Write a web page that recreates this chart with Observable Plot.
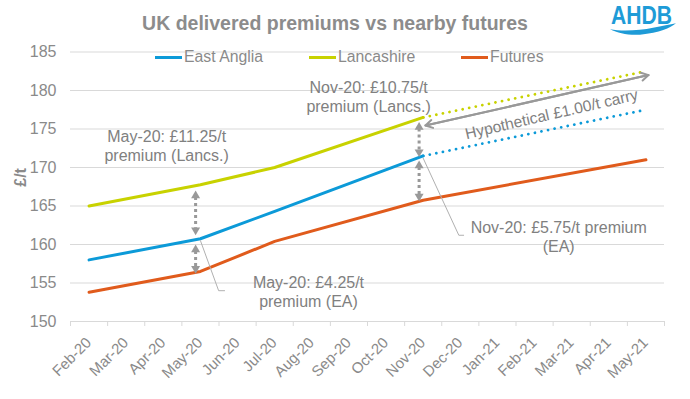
<!DOCTYPE html>
<html>
<head>
<meta charset="utf-8">
<script src="https://cdn.jsdelivr.net/npm/d3@7"></script>
<script src="https://cdn.jsdelivr.net/npm/@observablehq/plot@0.6"></script>
<style>
  html, body { margin: 0; padding: 0; background: #fff; }
  #wrap { position: relative; width: 690px; height: 399px; font-family: "Liberation Sans", Arial, sans-serif; color: #8a8a8a; overflow: hidden; }
  #chart { position: absolute; left: 0; top: 0; }
  #title { position: absolute; left: 0; width: 670px; top: 12px; text-align: center; font-size: 19.5px; font-weight: bold; line-height: 22px; color: #8c8c8c; }
  .leg { position: absolute; top: 48px; display: flex; align-items: center; font-size: 15.8px; line-height: 18px; color: #8a8a8a; }
  .leg .sw { width: 27px; height: 3px; margin-right: 2px; }
  #logo { position: absolute; left: 604px; top: 0px; }
</style>
</head>
<body>
<div id="wrap">
  <div id="chart"></div>
  <div id="title">UK delivered premiums vs nearby futures</div>
  <div class="leg" style="left:155px"><span class="sw" style="background:#0c9ad8"></span>East Anglia</div>
  <div class="leg" style="left:309px"><span class="sw" style="background:#c8d200"></span>Lancashire</div>
  <div class="leg" style="left:461px"><span class="sw" style="background:#e05b1c"></span>Futures</div>
  <svg id="logo" width="86" height="40" viewBox="604 0 86 40">
    <text x="611" y="24" font-family="Liberation Sans, Arial, sans-serif" font-size="25" font-weight="bold" fill="#1e9bd7" textLength="61" lengthAdjust="spacingAndGlyphs">AHDB</text>
    <path d="M610,29.3 C622,31.5 640,30.5 653,27.7 C662,26 670,24.5 676,23.3 C670,28 660,33 640,34.7 C628,35.5 618,33 610,29.3 Z" fill="#1e9bd7"/>
  </svg>
</div>
<script>
// ---- data ----
const months = ["Feb-20","Mar-20","Apr-20","May-20","Jun-20","Jul-20","Aug-20","Sep-20","Oct-20","Nov-20","Dec-20","Jan-21","Feb-21","Mar-21","Apr-21","May-21"];
const yTicks = [150, 155, 160, 165, 170, 175, 180, 185];

const eastAngliaMonths = ["Feb-20","May-20","Jul-20","Nov-20"];
const eastAngliaValues = [158, 160.75, 164.3, 171.5];
const lancashireMonths = ["Feb-20","May-20","Jul-20","Nov-20"];
const lancashireValues = [165, 167.75, 170, 176.5];
const futuresMonths = ["Feb-20","May-20","Jul-20","Nov-20","May-21"];
const futuresValues = [153.8, 156.5, 160.4, 165.75, 171];

const carryMonths = ["Nov-20","May-21"];
const eastAngliaCarry = [171.5, 177.5];
const lancashireCarry = [176.5, 182.5];

const colors = { ea: "#0c9ad8", lancs: "#c8d200", fut: "#e05b1c" };

// ---- annotations (data space: x = month index) ----
const premiumArrows = [
  {x: 2.87, top: 167.0, bottom: 161.2},
  {x: 2.87, top: 160.0, bottom: 156.2},
  {x: 8.89, top: 175.9, bottom: 171.35},
  {x: 8.89, top: 170.9, bottom: 165.6}
];
const carryArrow = {x1: 9.06, y1: 175.45, x2: 15.07, y2: 182.0};
const labels = [
  {x: 2.09, y: 172.9, text: "May-20: £11.25/t\npremium (Lancs.)"},
  {x: 7.53, y: 179.2, text: "Nov-20: £10.75/t\npremium (Lancs.)"},
  {x: 5.91, y: 153.9, text: "May-20: £4.25/t\npremium (EA)"},
  {x: 12.65, y: 161.0, text: "Nov-20: £5.75/t premium\n(EA)"}
];
const carryLabel = [{x: 12.46, y: 176.9, text: "Hypothetical £1.00/t carry"}];
const leaderMay = [{x: 3.0, y: 160.5}, {x: 3.49, y: 154.0}, {x: 3.65, y: 154.0}];
const leaderNov = [{x: 9.0, y: 171.2}, {x: 9.96, y: 161.2}, {x: 10.09, y: 161.2}];

const idx = m => months.indexOf(m);
const series = (ms, vs) => ms.map((m, i) => ({x: idx(m), y: vs[i]}));

const upTip = { draw(ctx, size) { const r = Math.sqrt(size / Math.PI); ctx.moveTo(0, 0); ctx.lineTo(r, 1.7 * r); ctx.lineTo(-r, 1.7 * r); ctx.closePath(); } };
const downTip = { draw(ctx, size) { const r = Math.sqrt(size / Math.PI); ctx.moveTo(0, 0); ctx.lineTo(r, -1.7 * r); ctx.lineTo(-r, -1.7 * r); ctx.closePath(); } };

const gray = "#999999";
const textGray = "#808080";

const chart = Plot.plot({
  width: 690,
  height: 399,
  marginLeft: 70,
  marginRight: 26,
  marginTop: 51.5,
  marginBottom: 78,
  x: {type: "linear", domain: [-0.5, 15.5], axis: null},
  y: {domain: [150, 185], ticks: yTicks, tickSize: 0, tickPadding: 14, label: null, tickFormat: d => String(d)},
  style: {fontFamily: "Liberation Sans, Arial, sans-serif", fontSize: "16px", color: "#8a8a8a", background: "transparent", overflow: "visible"},
  marks: [
    Plot.ruleY(yTicks, {stroke: "#d9d9d9", strokeWidth: 1}),
    Plot.ruleX(d3.range(-0.5, 16, 1), {y1: 150, y2: 149.35, stroke: "#d9d9d9"}),
    Plot.text(months, {x: (d, i) => i, text: d => d, frameAnchor: "bottom", dy: 22, dx: 3, rotate: -45, textAnchor: "end", fontSize: 15, fill: "#8a8a8a"}),
    Plot.text(["£/t"], {text: d => d, frameAnchor: "left", dx: -50, rotate: -90, fontWeight: "bold", fontSize: 16, fill: "#8a8a8a"}),
    Plot.line(series(futuresMonths, futuresValues), {x: "x", y: "y", stroke: colors.fut, strokeWidth: 3}),
    Plot.line(series(eastAngliaMonths, eastAngliaValues), {x: "x", y: "y", stroke: colors.ea, strokeWidth: 3}),
    Plot.line(series(lancashireMonths, lancashireValues), {x: "x", y: "y", stroke: colors.lancs, strokeWidth: 3}),
    Plot.line(series(carryMonths, eastAngliaCarry), {x: "x", y: "y", stroke: colors.ea, strokeWidth: 2.8, strokeDasharray: "0.01,6.7", strokeLinecap: "round"}),
    Plot.line(series(carryMonths, lancashireCarry), {x: "x", y: "y", stroke: colors.lancs, strokeWidth: 2.8, strokeDasharray: "0.01,6.7", strokeLinecap: "round"}),
    Plot.line(leaderMay, {x: "x", y: "y", stroke: "#b0b0b0", strokeWidth: 1}),
    Plot.line(leaderNov, {x: "x", y: "y", stroke: "#b0b0b0", strokeWidth: 1}),
    Plot.ruleX(premiumArrows, {x: "x", y1: "top", y2: "bottom", insetTop: 7, insetBottom: 7, stroke: gray, strokeWidth: 3, strokeDasharray: "3,3"}),
    Plot.dot(premiumArrows, {x: "x", y: "top", symbol: upTip, r: 4.5, fill: gray, stroke: "none"}),
    Plot.dot(premiumArrows, {x: "x", y: "bottom", symbol: downTip, r: 4.5, fill: gray, stroke: "none"}),
    Plot.arrow([carryArrow], {x1: "x1", y1: "y1", x2: "x2", y2: "y2", stroke: gray, strokeWidth: 2, headLength: 6}),
    Plot.arrow([carryArrow], {x1: "x2", y1: "y2", x2: "x1", y2: "y1", stroke: gray, strokeWidth: 2, headLength: 6}),
    Plot.text(labels, {x: "x", y: "y", text: "text", fill: textGray, fontSize: 16, lineHeight: 1.19}),
    Plot.text(carryLabel, {x: "x", y: "y", text: "text", fill: textGray, fontSize: 15.6, rotate: -13})
  ]
});
document.getElementById("chart").appendChild(chart);
</script>
</body>
</html>
